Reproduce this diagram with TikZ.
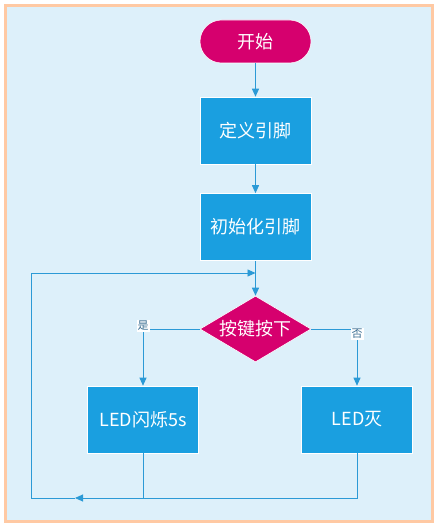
\documentclass[tikz,border=0pt]{standalone}
\usepackage{fontspec}
\setmainfont{Noto Sans CJK SC}
\usepackage{tikz}
\usetikzlibrary{arrows.meta}
\usetikzlibrary{shapes.geometric}
\definecolor{keyred}{HTML}{D6006E}
\definecolor{boxblue}{HTML}{1A9FE0}
\definecolor{lineblue}{HTML}{2B9AD6}
\definecolor{bgblue}{HTML}{DDF0FA}
\definecolor{frameorange}{HTML}{FFC9A3}
\definecolor{labelblue}{HTML}{3A6E92}

\begin{document}
\begin{tikzpicture}[x=1pt,y=-1pt,
	stepbox/.style={rectangle,draw=white,line width=0.6pt,fill=boxblue,text=white,minimum width=111pt,minimum height=67pt,inner sep=0pt,font=\fontsize{18}{20}\selectfont},
	startbox/.style={rectangle,rounded corners=21.5pt,draw=white,line width=0.6pt,fill=keyred,text=white,minimum width=111pt,minimum height=43pt,inner sep=0pt,font=\fontsize{18}{20}\selectfont},
	testbox/.style={diamond,aspect=1.68,draw=white,line width=0.6pt,fill=keyred,text=white,minimum width=111pt,minimum height=66pt,inner sep=0pt,font=\fontsize{18}{20}\selectfont},
	flow/.style={draw=lineblue,line width=0.9pt,-{Triangle[length=8pt,width=7pt]}},
	line/.style={draw=lineblue,line width=0.9pt},
	answer/.style={fill=white,text=labelblue,inner sep=1pt,font=\fontsize{11}{12}\selectfont}]
	\useasboundingbox (0,0) rectangle (438,527);
	\fill[bgblue] (5.5,5.5) rectangle (432.5,521.5);
	\draw[frameorange,line width=3pt] (5.5,5.5) rectangle (432.5,521.5);
	\node[startbox] (start) at (255.5,41.5) {开始};
	\node[stepbox] (define) at (255.5,130.5) {定义引脚};
	\node[stepbox] (init) at (255.5,227) {初始化引脚};
	\node[testbox] (key) at (255.5,329) {按键按下};
	\node[stepbox] (blink) at (143,419.5) {LED闪烁5s};
	\node[stepbox] (off) at (357,419.5) {LED灭};
	\coordinate (join) at (255.5,273);
	\coordinate (back) at (75,498);
	\coordinate (corner) at (31,498);
	\draw[flow] (start) -- (define);
	\draw[flow] (define) -- (init);
	\draw[flow] (init) -- (key);
	\draw[flow] (key.west) -| (blink.north);
	\draw[flow] (key.east) -| (off.north);
	\node[answer] at (143,326) {是};
	\node[answer] at (357,334) {否};
	\draw[flow] (off.south) |- (back);
	\draw[line] (blink.south) -- (blink.south |- back);
	\draw[flow] (back) -- (corner) |- (join);
\end{tikzpicture}
\end{document}
